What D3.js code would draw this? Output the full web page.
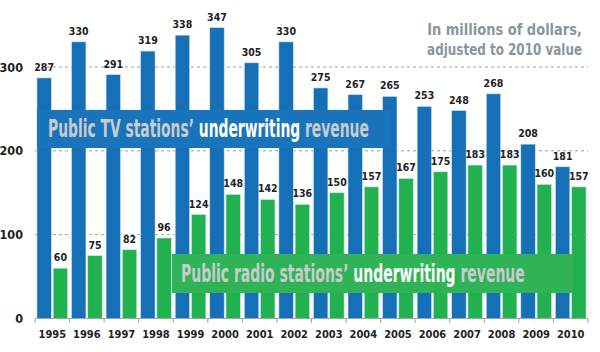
<!DOCTYPE html>
<html>
<head>
<meta charset="utf-8">
<script src="https://cdn.jsdelivr.net/npm/d3@7"></script>
<style>
  body { margin: 0; background: #fff; }
  svg text { font-family: "DejaVu Sans Condensed", "Liberation Sans Narrow", sans-serif; font-stretch: condensed; font-weight: bold; }
</style>
</head>
<body>
<div class="svg_container"></div>
<script>
const WIDTH = 600;
const HEIGHT = 352;

var years = ["1995","1996","1997","1998","1999","2000","2001","2002","2003","2004","2005","2006","2007","2008","2009","2010"];
var tvValues = [287,330,291,319,338,347,305,330,275,267,265,253,248,268,208,181];
var radioValues = [60,75,82,96,124,148,142,136,150,157,167,175,183,183,160,157];
var yTicks = [0,100,200,300];
var noteLines = ["In millions of dollars,", "adjusted to 2010 value"];

var _xScale = d3.scaleBand()
  .domain(years)
  .range([35, 588])
  .paddingInner(0)
  .paddingOuter(0);

var _inner = d3.scaleBand()
  .domain(["tv","radio"])
  .range([0, _xScale.bandwidth()])
  .paddingInner(0.11)
  .paddingOuter(0.12);

var _yScale = d3.scaleLinear()
  .domain([0, 300])
  .range([318.5, 67]);

var colors = { tv: "#1570b8", radio: "#21b24f" };

// squeeze a text horizontally so it is w pixels wide, anchored at x0
var fitWidth = function(sel, x0, w){
  var cur = sel.node().getComputedTextLength();
  var k = w / cur;
  sel.attr('transform', 'translate(' + x0 + ',0) scale(' + k + ',1) translate(' + (-x0) + ',0)');
};

var svg = d3.select('.svg_container').append('svg')
  .attr('width', WIDTH)
  .attr('height', HEIGHT);

// gridlines
svg.append('g').selectAll('line')
  .data(yTicks.filter(function(d){ return d > 0; }))
  .enter().append('line')
  .attr('x1', 35).attr('x2', 588)
  .attr('y1', function(d){ return _yScale(d); })
  .attr('y2', function(d){ return _yScale(d); })
  .attr('stroke', '#8fa3b3')
  .attr('stroke-width', 1)
  .attr('stroke-dasharray', '3,3');

// y labels
svg.append('g').selectAll('text')
  .data(yTicks)
  .enter().append('text')
  .attr('x', 23)
  .attr('y', function(d){ return _yScale(d) + 4.5; })
  .attr('text-anchor', 'end')
  .attr('font-size', 12.5)
  .attr('fill', '#222')
  .text(function(d){ return d; });

// bars
var series = [
  { key: "tv", values: tvValues },
  { key: "radio", values: radioValues }
];

series.forEach(function(s){
  var g = svg.append('g');
  g.selectAll('rect')
    .data(s.values)
    .enter().append('rect')
    .attr('x', function(d,i){ return _xScale(years[i]) + _inner(s.key); })
    .attr('y', function(d){ return _yScale(d); })
    .attr('width', _inner.bandwidth())
    .attr('height', function(d){ return _yScale(0) - _yScale(d); })
    .attr('fill', colors[s.key])
    .attr('stroke', '#cfe6ee')
    .attr('stroke-width', 0.6);

  g.selectAll('text')
    .data(s.values)
    .enter().append('text')
    .attr('x', function(d,i){ return _xScale(years[i]) + _inner(s.key) + _inner.bandwidth()/2; })
    .attr('y', function(d){ return _yScale(d) - 7; })
    .attr('text-anchor', 'middle')
    .attr('font-size', 10.5)
    .attr('fill', '#222')
    .text(function(d){ return d; });
});

// x axis
var axis = svg.append('g');
axis.append('line')
  .attr('x1', 35).attr('x2', 588)
  .attr('y1', 318.5).attr('y2', 318.5)
  .attr('stroke', '#9aa5ad');
axis.selectAll('.tick')
  .data(years.concat(["end"]))
  .enter().append('line')
  .attr('x1', function(d){ return d == "end" ? 588 : _xScale(d); })
  .attr('x2', function(d){ return d == "end" ? 588 : _xScale(d); })
  .attr('y1', 318.5).attr('y2', 323)
  .attr('stroke', '#9aa5ad');
axis.selectAll('text')
  .data(years)
  .enter().append('text')
  .attr('x', function(d){ return _xScale(d) + _xScale.bandwidth()/2; })
  .attr('y', 337.5)
  .attr('text-anchor', 'middle')
  .attr('font-size', 11)
  .attr('fill', '#222')
  .text(function(d){ return d; });

// banners
var banner = function(x, y, w, h, fill, parts, tx, tw){
  var g = svg.append('g');
  g.append('rect')
    .attr('x', x).attr('y', y).attr('width', w).attr('height', h)
    .attr('fill', fill);
  var t = g.append('text')
    .attr('x', tx)
    .attr('y', y + h/2 + 8.5)
    .attr('font-size', 24);
  parts.forEach(function(p){
    t.append('tspan').attr('fill', p[1]).text(p[0]);
  });
  fitWidth(t, tx, tw);
};

banner(37, 110, 354, 38, '#1a74bc',
  [["Public TV stations\u2019 ", "#c9cccf"], ["underwriting", "#ffffff"], [" revenue", "#c9cccf"]], 48, 321);
banner(172, 254, 401, 39, '#2fb356',
  [["Public radio stations\u2019 ", "#c9cccf"], ["underwriting", "#ffffff"], [" revenue", "#c9cccf"]], 181, 344);

// note
svg.append('g').selectAll('text')
  .data(noteLines)
  .enter().append('text')
  .attr('x', 582)
  .attr('y', function(d,i){ return 35 + i*20.5; })
  .attr('text-anchor', 'end')
  .attr('font-size', 16.5)
  .attr('fill', '#8a959c')
  .text(function(d){ return d; })
  .each(function(){ fitWidth(d3.select(this), 582, 155); });
</script>
</body>
</html>
